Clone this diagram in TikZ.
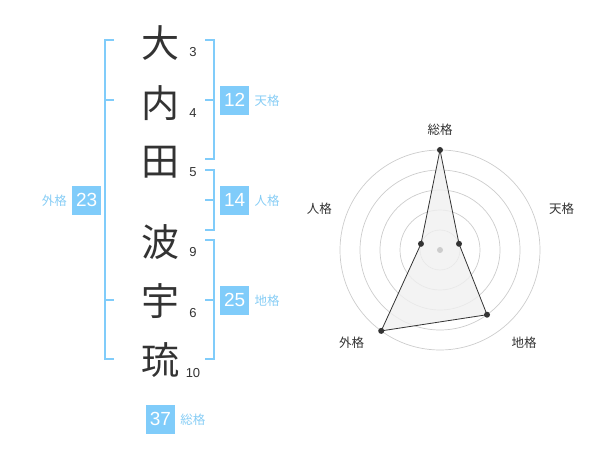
\documentclass[tikz,border=0pt]{standalone}
\usepackage{fontspec}
\setmainfont{Liberation Sans}
\newfontfamily\jp{Noto Sans CJK JP}
\usetikzlibrary{positioning}

\definecolor{kakublue}{RGB}{128,204,250}
\definecolor{kakutext}{RGB}{135,205,245}
\definecolor{ink}{RGB}{51,51,51}
\definecolor{ring}{RGB}{204,204,204}

\begin{document}
\begin{tikzpicture}[x=1pt,y=-1pt,
    kanji/.style={inner sep=0pt,text=ink,font=\jp\fontsize{38}{38}\selectfont},
    strokes/.style={inner sep=0pt,text=ink,font=\fontsize{13}{13}\selectfont},
    numbox/.style={fill=kakublue,text=white,minimum size=29pt,inner sep=0pt,
      font=\fontsize{19}{19}\selectfont},
    kaku/.style={inner sep=0pt,text=kakutext,font=\jp\fontsize{12.5}{12.5}\selectfont},
    axislabel/.style={inner sep=0pt,text=ink,font=\jp\fontsize{12.5}{12.5}\selectfont},
    bracket/.style={draw=kakublue,line width=2pt},
    dot/.style={circle,fill=ink,inner sep=0pt,minimum size=6pt},
    node distance=5pt]
    \useasboundingbox (0,0) rectangle (600,470);

    % name
    \node[kanji] (c1) at (160,43)  {大};
    \node[kanji] (c2) at (160,103) {内};
    \node[kanji] (c3) at (160,162) {田};
    \node[kanji] (c4) at (160,242) {波};
    \node[kanji] (c5) at (160,301) {宇};
    \node[kanji] (c6) at (160,360) {琉};

    \node[strokes] (s1) at (193,52)  {3};
    \node[strokes] (s2) at (193,113) {4};
    \node[strokes] (s3) at (193,172) {5};
    \node[strokes] (s4) at (193,252) {9};
    \node[strokes] (s5) at (193,313) {6};
    \node[strokes] (s6) at (193,373) {10};

    % brackets
    \draw[bracket] (205,40) -- (214,40) -- (214,159) -- (205,159) (205,100) -- (214,100);
    \draw[bracket] (205,170) -- (214,170) -- (214,230) -- (205,230) (205,200) -- (214,200);
    \draw[bracket] (205,240) -- (214,240) -- (214,359) -- (205,359) (205,300) -- (214,300);
    \draw[bracket] (114,40) -- (105,40) -- (105,359) -- (114,359)
      (105,100) -- (114,100) (105,300) -- (114,300);

    % scores
    \node[numbox] (ten)  at (234.7,100.3) {12};
    \node[numbox] (jin)  at (234.7,200.3) {14};
    \node[numbox] (chi)  at (234.7,300.3) {25};
    \node[numbox] (gai)  at (86.7,200.3)  {23};
    \node[numbox] (sou)  at (160.5,419.3) {37};
    \node[kaku] (tenl) [right=of ten] {天格};
    \node[kaku] (jinl) [right=of jin] {人格};
    \node[kaku] (chil) [right=of chi] {地格};
    \node[kaku] (soul) [right=of sou] {総格};
    \node[kaku] (gail) [left=of gai]  {外格};

    % radar
    \begin{scope}[shift={(440,250)},yscale=-1]
      \foreach \r in {20,40,...,100}
        \draw[ring,line width=0.7pt] (0,0) circle (\r);
      \coordinate (pSou) at (90:100);
      \coordinate (pTen) at (18:20);
      \coordinate (pChi) at (-54:80);
      \coordinate (pGai) at (234:100);
      \coordinate (pJin) at (162:20);
      \filldraw[fill=ring!30,fill opacity=0.8,draw=ink,line width=0.8pt]
        (pSou) -- (pTen) -- (pChi) -- (pGai) -- (pJin) -- cycle;
      \foreach \p in {pSou,pTen,pChi,pGai,pJin}
        \node[dot] at (\p) {};
      \node[circle,fill=ring,inner sep=0pt,minimum size=6pt] (mid) at (0,0) {};
    \end{scope}
    \node[axislabel] (aSou) at (440,130)   {総格};
    \node[axislabel] (aTen) at (561.7,208.3) {天格};
    \node[axislabel] (aChi) at (524,342.7)   {地格};
    \node[axislabel] (aGai) at (351.7,342.7) {外格};
    \node[axislabel] (aJin) at (319.3,208.3) {人格};
\end{tikzpicture}
\end{document}
